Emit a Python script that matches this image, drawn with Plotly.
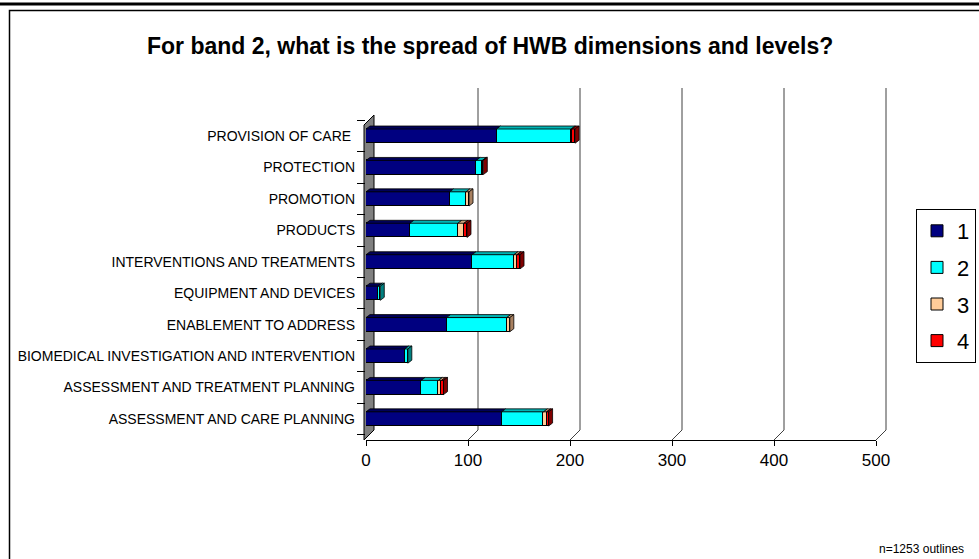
import plotly.graph_objects as go

# ---- data -----------------------------------------------------------------
categories = [
    "ASSESSMENT AND CARE PLANNING",
    "ASSESSMENT AND TREATMENT PLANNING",
    "BIOMEDICAL INVESTIGATION AND INTERVENTION",
    "ENABLEMENT TO ADDRESS",
    "EQUIPMENT AND DEVICES",
    "INTERVENTIONS AND TREATMENTS",
    "PRODUCTS",
    "PROMOTION",
    "PROTECTION",
    "PROVISION OF CARE ",
]
level_1 = [133, 54, 38, 79, 12, 104, 43, 82, 108, 128]
level_2 = [41, 17, 3, 59, 2, 41, 47, 16, 6, 73]
level_3 = [3, 3, 0, 3, 0, 3, 6, 3, 0, 1]
level_4 = [2, 2, 0, 0, 0, 3, 3, 0, 1, 3]
level_names = ["1", "2", "3", "4"]
x_ticks = [0, 100, 200, 300, 400, 500]

title_text = "For band 2, what is the spread of HWB dimensions and levels?"
note_text = "n=1253 outlines"

# ---- styling --------------------------------------------------------------
FONT = "Liberation Sans, Arial, sans-serif"
front_colors = ["#000080", "#00FFFF", "#FFCC99", "#FF0000"]
top_colors = ["#000058", "#00B4B4", "#C8A07A", "#A00000"]
side_colors = ["#000060", "#008080", "#A88060", "#800000"]

W, H = 979, 559
L, R, T, B = 366, 876, 88, 440          # plot area in pixels
Y_MIN, Y_MAX = -0.67, 10.53
X_MAX = 500
BAR_W = 0.45
DEPTH_PX = 4                             # bar depth (3-D look)
WALL_PX = 10                             # chart depth

x_per_px = X_MAX / (R - L)
y_per_px = (Y_MAX - Y_MIN) / (B - T)


def px(xp):
    return (xp - L) / (R - L)


def py(yp):
    return (B - yp) / (B - T)


series = [level_1, level_2, level_3, level_4]

fig = go.Figure()
for name, vals, col in zip(level_names, series, front_colors):
    fig.add_trace(go.Bar(
        y=categories, x=vals, orientation="h", name=name,
        legendgroup=name, width=BAR_W,
        marker=dict(color=col, line=dict(color="black", width=1)),
        hoverinfo="x+y+name",
    ))

shapes = []

# back gridlines with their slanted foot to the front baseline
dxw, dyw = WALL_PX / (R - L), WALL_PX / (B - T)
for v in x_ticks[1:]:
    xf = v / X_MAX
    shapes.append(dict(
        type="path", xref="paper", yref="paper",
        path=f"M{xf},0 L{xf + dxw},{dyw} L{xf + dxw},1",
        line=dict(color="#404040", width=1), layer="below",
    ))

# grey side wall
shapes.append(dict(
    type="path", xref="paper", yref="paper",
    path=(f"M{px(364)},0 L{px(364)},{py(125)} L{px(364) + dxw},{py(125) + dyw} "
          f"L{px(364) + dxw},{dyw} Z"),
    fillcolor="#808080", line=dict(color="black", width=1), layer="below",
))

# 3-D faces of the stacked bars (top strip of each segment, side of the stack end)
ddx = DEPTH_PX * x_per_px
ddy = 3 * y_per_px
for i in range(len(categories)):
    start = 0
    last = None
    yt = i + BAR_W / 2
    yb = i - BAR_W / 2
    for k, vals in enumerate(series):
        v = vals[i]
        if v <= 0:
            continue
        x0, x1 = start, start + v
        shapes.append(dict(
            type="path", xref="x", yref="y",
            path=f"M{x0},{yt} L{x0 + ddx},{yt + ddy} L{x1 + ddx},{yt + ddy} L{x1},{yt} Z",
            fillcolor=top_colors[k], line=dict(color="black", width=0.8),
        ))
        start = x1
        last = k
    if last is not None:
        shapes.append(dict(
            type="path", xref="x", yref="y",
            path=f"M{start},{yb} L{start},{yt} L{start + ddx},{yt + ddy} L{start + ddx},{yb + ddy} Z",
            fillcolor=side_colors[last], line=dict(color="black", width=0.8),
        ))

# outer frame: heavy rule on top, thin box below it
shapes.append(dict(type="line", xref="paper", yref="paper",
                   x0=px(0), x1=px(W), y0=py(4), y1=py(4),
                   line=dict(color="black", width=3)))
shapes.append(dict(type="path", xref="paper", yref="paper",
                   path=f"M{px(9.5)},{py(H + 5)} L{px(9.5)},{py(10.5)} L{px(W + 5)},{py(10.5)}",
                   line=dict(color="black", width=1.5)))

fig.update_layout(
    width=W, height=H,
    margin=dict(l=L, r=W - R, t=T, b=H - B, pad=0, autoexpand=False),
    paper_bgcolor="white", plot_bgcolor="white",
    barmode="stack", bargap=0,
    font=dict(family=FONT, color="black"),
    showlegend=True,
    legend=dict(
        x=px(916), y=py(209), xanchor="left", yanchor="top",
        font=dict(size=22, family=FONT), bordercolor="black", borderwidth=1,
        bgcolor="white", traceorder="grouped", tracegroupgap=5,
        itemwidth=30,
    ),
    xaxis=dict(
        range=[0, X_MAX], tickvals=x_ticks, ticktext=[str(t) for t in x_ticks],
        showgrid=False, zeroline=False, showline=True, linecolor="black", linewidth=1,
        ticks="outside", ticklen=5, tickcolor="black",
        tickfont=dict(size=17, family=FONT), fixedrange=True, automargin=False,
    ),
    yaxis=dict(
        type="category", categoryorder="array", categoryarray=categories,
        range=[Y_MIN, Y_MAX], showgrid=False, zeroline=False, showline=False,
        ticks="outside", tickson="boundaries", ticklen=8, tickcolor="black",
        ticklabelstandoff=10, automargin=False,
        tickfont=dict(size=14, family=FONT), fixedrange=True,
    ),
    shapes=shapes,
    annotations=[
        dict(text=f"<b>{title_text}</b>", xref="paper", yref="paper",
             x=px(490), y=py(46), xanchor="center", yanchor="middle",
             showarrow=False, font=dict(size=23, family=FONT)),
        dict(text=note_text, xref="paper", yref="paper",
             x=px(966), y=py(549), xanchor="right", yanchor="middle",
             showarrow=False, font=dict(size=12, family=FONT)),
    ],
)

fig.write_html("out.html")
